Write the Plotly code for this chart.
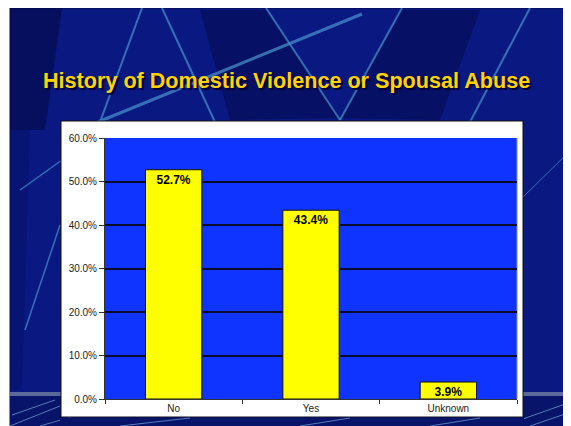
import plotly.graph_objects as go

# ---- data ----
categories = ["No", "Yes", "Unknown"]
values = [0.527, 0.434, 0.039]
title_text = "History of Domestic Violence or Spousal Abuse"

OFF = 8  # page body margin
W_FIG, H_FIG = 571 - OFF, 426 - OFF
# plot area in page pixels
L, R, T, B = 105, 517, 138, 399


def px(x):
    return (x - L) / (R - L)


def py(y):
    return (B - y) / (B - T)


NAVY = "#0a1982"
STREAK = "rgba(70,140,200,0.75)"

shapes = []
# slide background
shapes.append(dict(type="rect", xref="paper", yref="paper", layer="below",
                   x0=px(10), x1=px(575), y0=py(8), y1=py(430),
                   fillcolor=NAVY, line=dict(color="#020a40", width=1)))
# darker wedges
wedges = [
    ([(10, 8), (62, 8), (45, 130), (10, 130)], 0.6),
    ([(200, 10), (266, 10), (340, 118), (230, 120)], 0.5),
    ([(402, 10), (480, 10), (440, 120), (340, 118)], 0.5),
    ([(11, 130), (30, 130), (22, 390), (11, 390)], 0.25),
]
for poly, op in wedges:
    path = "M " + " L ".join(f"{px(x)},{py(y)}" for x, y in poly) + " Z"
    shapes.append(dict(type="path", xref="paper", yref="paper", layer="below",
                       path=path, fillcolor=f"rgba(2,8,70,{op})", line=dict(width=0)))
# light streaks
streaks = [
    ((142, 8), (100, 122), 2),
    ((162, 8), (215, 122), 2),
    ((98, 122), (362, 14), 3),
    ((266, 8), (340, 120), 2),
    ((402, 8), (340, 120), 2),
    ((530, 8), (470, 122), 2),
    ((20, 190), (62, 160), 1.5),
    ((25, 330), (60, 225), 1.5),
    ((520, 200), (571, 150), 1),
]
for (x0, y0), (x1, y1), w in streaks:
    shapes.append(dict(type="line", xref="paper", yref="paper", layer="below",
                       x0=px(x0), y0=py(y0), x1=px(x1), y1=py(y1),
                       line=dict(color=STREAK, width=w)))
# bottom band
shapes.append(dict(type="rect", xref="paper", yref="paper", layer="below",
                   x0=px(10), x1=px(575), y0=py(396), y1=py(430),
                   fillcolor="#08136a", line=dict(width=0)))
shapes.append(dict(type="rect", xref="paper", yref="paper", layer="below",
                   x0=px(10), x1=px(575), y0=py(392), y1=py(396),
                   fillcolor="#5b6a98", line=dict(width=0)))
bottom_lines = [((10, 426), (60, 406)), ((40, 426), (130, 400)), ((520, 420), (571, 402)),
                ((530, 426), (571, 412)), ((12, 415), (55, 400))]
for (x0, y0), (x1, y1) in bottom_lines:
    shapes.append(dict(type="line", xref="paper", yref="paper", layer="below",
                       x0=px(x0), y0=py(y0), x1=px(x1), y1=py(y1),
                       line=dict(color="rgba(120,170,220,0.7)", width=1)))
# white chart frame
shapes.append(dict(type="rect", xref="paper", yref="paper", layer="below",
                   x0=px(61), x1=px(523), y0=py(121), y1=py(417),
                   fillcolor="white", line=dict(color="#111", width=1)))
# plot area
shapes.append(dict(type="rect", xref="paper", yref="paper", layer="below",
                   x0=0, x1=1, y0=0, y1=1,
                   fillcolor="#1034ff", line=dict(width=0)))
shapes.append(dict(type="line", xref="paper", yref="paper", layer="below",
                   x0=1, x1=1, y0=0, y1=1, line=dict(color="#8a8a8a", width=1)))
# clip category labels at frame bottom
shapes.append(dict(type="rect", xref="paper", yref="paper", layer="above",
                   x0=px(60), x1=px(524), y0=py(417.5), y1=py(430),
                   fillcolor="#08136a", line=dict(width=0)))
for (x0, y0), (x1, y1) in [((120, 426), (190, 418)), ((300, 426), (350, 418)), ((430, 426), (480, 418))]:
    shapes.append(dict(type="line", xref="paper", yref="paper", layer="above",
                       x0=px(x0), y0=py(y0), x1=px(x1), y1=py(y1),
                       line=dict(color="rgba(120,170,220,0.7)", width=1)))

fig = go.Figure(go.Bar(
    x=categories, y=values, width=0.41,
    marker=dict(color="#ffff00", line=dict(color="#111", width=1)),
    texttemplate="<b>%{y:.1%}</b>", textposition="inside", insidetextanchor="end",
    constraintext="none",
    textfont=dict(family="Arial, Liberation Sans, sans-serif", size=12, color="black"),
    hoverinfo="skip",
))

fig.update_layout(
    width=W_FIG, height=H_FIG,
    margin=dict(l=L - OFF, r=W_FIG - (R - OFF), t=T - OFF, b=H_FIG - (B - OFF), pad=0),
    paper_bgcolor="white", plot_bgcolor="#1034ff",
    showlegend=False,
    shapes=shapes,
    font=dict(family="Arial, Liberation Sans, sans-serif", color="#222"),
    annotations=[dict(
        text=f"<b>{title_text}</b>", xref="paper", yref="paper",
        x=px(286.5), y=py(80.5), xanchor="center", yanchor="middle", showarrow=False,
        font=dict(family="Arial, Liberation Sans, sans-serif", size=21.6, color="#ffd200",
                  shadow="2px 2px 1px #000033"),
    )],
)
fig.update_xaxes(
    showgrid=False, showline=True, linecolor="#333", linewidth=1,
    ticks="outside", ticklen=4, tickcolor="#333", tickson="boundaries",
    tickfont=dict(size=10, color="#222"), fixedrange=True,
)
fig.update_yaxes(
    range=[0, 0.6], dtick=0.1, tickformat=".1%",
    showgrid=True, gridcolor="#0a0a30", gridwidth=1.5, zeroline=False,
    showline=True, linecolor="#333", linewidth=1,
    ticks="outside", ticklen=5, tickcolor="#333",
    tickfont=dict(size=10, color="#222"), fixedrange=True,
)

fig.write_html("out.html")
